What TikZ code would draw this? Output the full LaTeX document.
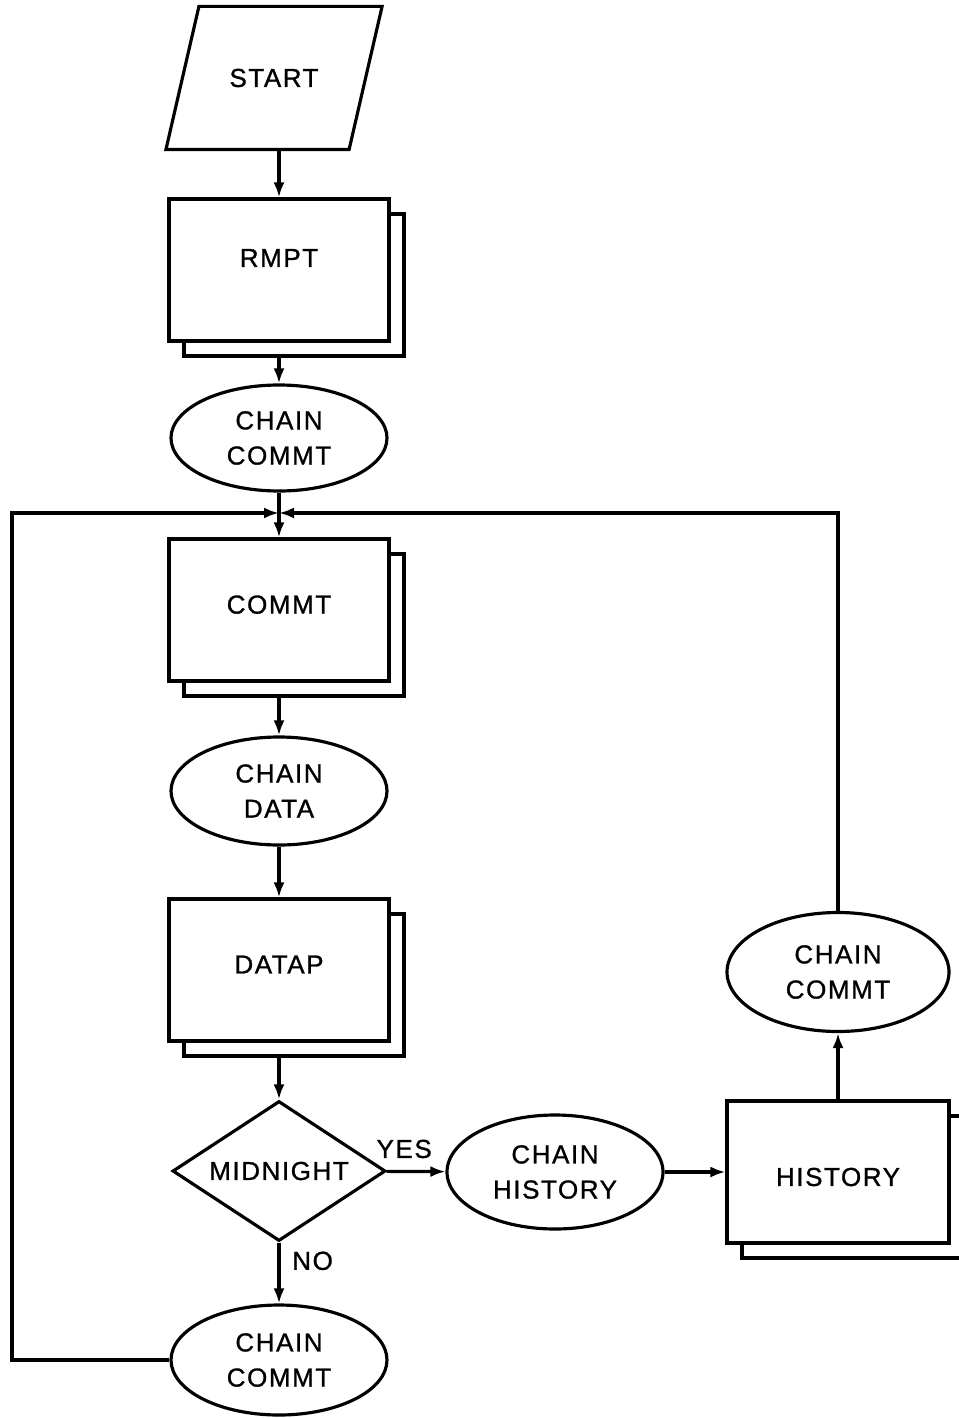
\documentclass[tikz,border=0pt]{standalone}
\usepackage{fontspec}
\newfontfamily\chartfont[LetterSpace=6,FakeBold=1]{Liberation Sans}
\usetikzlibrary{shapes.geometric,shadows,arrows.meta}

\begin{document}
\begin{tikzpicture}[x=1cm,y=-1cm,line width=0.9pt,
    every node/.style={font=\chartfont\fontsize{7.4}{10}\selectfont},
    startbox/.style={minimum width=1.80cm,minimum height=1.4cm,inner sep=0pt},
    progbox/.style={draw,fill=white,minimum width=2.2cm,minimum height=1.42cm,
      copy shadow={shadow xshift=0.15cm,shadow yshift=-0.15cm,draw,fill=white}},
    chain/.style={draw,ellipse,minimum width=2.16cm,minimum height=1.08cm,inner sep=0pt,align=center},
    decide/.style={draw,diamond,aspect=1.52,minimum width=2.13cm,minimum height=1.4cm,inner sep=0pt},
    flow/.style={-{Latex[length=0.15cm,width=0.11cm]}}]
    \useasboundingbox (0,0) rectangle (9.59,14.18);

    % main column
    \node[startbox] (start) at (2.74,0.78) {START};
    \draw ([xshift=0.165cm]start.north west) -- ([xshift=0.165cm]start.north east)
      -- ([xshift=-0.165cm]start.south east) -- ([xshift=-0.165cm]start.south west) -- cycle;
    \node[progbox] (rmpt) at (2.79,2.70) {\raisebox{0.24cm}{RMPT}};
    \node[chain,minimum height=1.06cm] (cc1) at (2.79,4.38) {CHAIN\\COMMT};
    \coordinate (jn) at (2.79,5.13);
    \coordinate (lft) at (0.12,5.13);
    \node[progbox] (commt) at (2.79,6.10) {\raisebox{0.11cm}{COMMT}};
    \node[chain] (cdata) at (2.79,7.91) {CHAIN\\DATA};
    \node[progbox] (datap) at (2.79,9.70) {\raisebox{0.11cm}{DATAP}};
    \node[decide] (mid) at (2.79,11.71) {MIDNIGHT};
    \node[chain,minimum height=1.10cm] (cc4) at (2.79,13.60) {CHAIN\\COMMT};

    % history branch
    \node[chain,minimum height=1.14cm] (chist) at (5.55,11.72) {CHAIN\\HISTORY};
    \node[progbox,minimum width=2.22cm] (hist) at (8.38,11.72) {\raisebox{-0.1cm}[\height]{HISTORY}};
    \node[chain,minimum width=2.22cm,minimum height=1.19cm] (cc3) at (8.38,9.72) {CHAIN\\COMMT};

    \draw[flow] (start.south -| rmpt.north) -- (rmpt);
    \draw[flow] ([yshift=-0.15cm]rmpt.south) -- (cc1);
    \draw (cc1) -- (jn);
    \draw[flow] (jn) -- (commt);
    \draw[flow] ([yshift=-0.15cm]commt.south) -- (cdata);
    \draw[flow] (cdata) -- (datap);
    \draw[flow] ([yshift=-0.15cm]datap.south) -- (mid);
    \draw[flow] (mid) -- node[above,pos=0.3] {YES} (chist);
    \draw[flow] (chist) -- (hist);
    \draw[flow] (hist) -- (cc3);
    \draw[flow] (cc3) |- (jn);
    \draw[flow] (mid) -- node[right,pos=0.3] {NO} (cc4);
    % loop back from the bottom
    \draw[flow] (cc4) -| (lft) -- (jn);
\end{tikzpicture}
\end{document}
